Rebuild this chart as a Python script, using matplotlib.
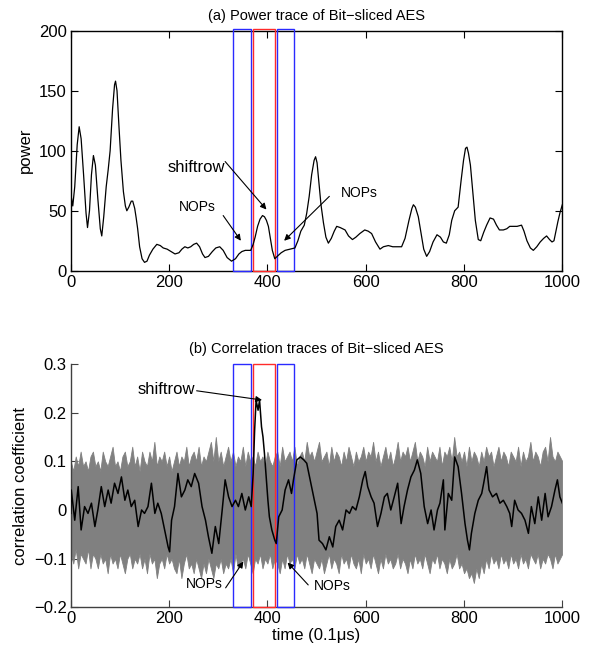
import numpy as np
import matplotlib
matplotlib.use("Agg")
import matplotlib.pyplot as plt
from matplotlib.patches import Rectangle
from matplotlib.ticker import FuncFormatter

plt.rcParams['font.family'] = ['Liberation Sans', 'DejaVu Sans']

# ---------------- data ----------------
power_x = [0, 4, 8, 13, 17, 21, 26, 31, 34, 38, 42, 46, 50, 55, 60, 63, 67, 72, 76, 80,
           85, 89, 91, 94, 98, 102, 107, 111, 114, 118, 123, 126, 130, 133, 136, 140, 145, 150, 155, 160,
           167, 175, 182, 188, 196, 204, 212, 220, 226, 232, 238, 244, 250, 256, 262, 268, 273, 280, 288, 295,
           303, 310, 318, 327, 335, 342, 348, 355, 362, 366, 371, 375, 380, 385, 390, 394, 398, 402, 406, 410,
           415, 420, 428, 436, 446, 456, 462, 468, 475, 480, 485, 490, 495, 498, 501, 505, 509, 514, 519, 524,
           530, 536, 541, 548, 553, 558, 565, 573, 580, 588, 598, 605, 612, 620, 629, 636, 646, 655, 665, 673,
           680, 688, 694, 697, 701, 707, 713, 718, 724, 730, 737, 745, 752, 758, 764, 770, 775, 781, 788, 794,
           799, 803, 806, 809, 813, 818, 823, 829, 834, 840, 846, 853, 860, 866, 872, 880, 887, 893, 900, 908,
           917, 922, 928, 935, 941, 948, 955, 962, 968, 974, 979, 983, 987, 991, 995, 1000]
power_y = [64, 54, 70, 105, 120, 110, 80, 48, 36, 50, 80, 96, 88, 60, 35, 29, 45, 70, 84, 100,
           135, 155, 158, 150, 120, 92, 66, 54, 50, 53, 58, 58, 52, 44, 35, 20, 10, 7, 8, 13,
           18, 22, 21, 19, 18, 16, 14, 15, 18, 20, 19, 20, 22, 23, 20, 14, 11, 12, 16, 19,
           20, 17, 11, 8, 10, 14, 16, 17, 17, 17, 22, 28, 37, 43, 46, 45, 42, 37, 27, 17,
           10, 12, 15, 17, 18, 19, 25, 33, 38, 48, 62, 80, 92, 95, 90, 72, 55, 40, 28, 23,
           27, 33, 37, 36, 35, 34, 29, 26, 28, 31, 34, 33, 31, 24, 18, 20, 21, 20, 20, 20,
           27, 42, 52, 55, 53, 45, 30, 18, 12, 16, 24, 30, 28, 24, 23, 30, 42, 50, 53, 75,
           92, 102, 103, 98, 88, 65, 42, 26, 25, 32, 38, 44, 43, 38, 34, 34, 35, 37, 37, 37,
           38, 33, 25, 19, 17, 20, 24, 27, 29, 26, 24, 25, 33, 41, 48, 55]

corr_x = [0, 1, 8, 15, 21, 28, 35, 42, 49, 55,
          62, 69, 76, 82, 89, 96, 103, 110, 116, 123,
          130, 137, 144, 150, 157, 164, 171, 177, 184, 191,
          198, 201, 205, 211, 218, 225, 232, 238, 245, 252,
          260, 267, 274, 280, 287, 294, 301, 308, 314, 321,
          328, 335, 341, 348, 355, 362, 367, 371, 374, 377,
          381, 384, 388, 391, 394, 398, 401, 404, 409, 415,
          418, 423, 430, 436, 443, 449, 453, 460, 467, 474,
          480, 487, 494, 501,
          505, 512, 519, 526, 533, 539, 546, 553, 560, 567,
          573, 580, 587, 594, 599, 604, 611, 617, 624, 631,
          638, 644, 651, 658, 665, 672, 678, 685, 692, 699,
          705, 712, 719, 726, 733, 739, 746,
          751, 758, 761, 768, 775, 781, 788, 795, 802, 807,
          811, 815, 822, 829, 836, 840, 846, 851, 858, 866,
          873, 880, 887, 893, 897, 903, 910, 917, 924, 931,
          937, 944, 951, 958, 965, 971, 978, 985, 990, 995,
          1000]
corr_y = [-0.007, 0.041, -0.021, 0.048, -0.041, 0.007, -0.007, 0.014, -0.034, 0.0,
          0.048, 0.007, 0.041, 0.014, 0.055, 0.034, 0.068, 0.020, 0.041, 0.007,
          0.020, -0.034, 0.0, -0.007, 0.007, 0.055, -0.007, 0.014, -0.007, -0.041,
          -0.076, -0.086, -0.021, 0.007, 0.075, 0.027, 0.041, 0.062, 0.048, 0.075,
          0.055, 0.007, -0.021, -0.055, -0.089, -0.034, -0.069, 0.0, 0.062, 0.027,
          0.007, 0.020, 0.007, 0.034, 0.0, 0.027, 0.007, 0.075, 0.164, 0.226,
          0.205, 0.226, 0.171, 0.150, 0.116, 0.062, 0.020, -0.014, -0.041, -0.062,
          -0.069, -0.014, 0.0, 0.041, 0.062, 0.034, 0.062, 0.103, 0.109, 0.103,
          0.096, 0.062, 0.027, -0.007,
          -0.062, -0.069, -0.082, -0.055, -0.076, -0.034, -0.021, -0.041, 0.0, -0.007,
          0.007, 0.0, 0.027, 0.062, 0.079, 0.048, 0.027, 0.014, -0.034, -0.007,
          0.027, 0.034, 0.0, 0.027, 0.055, -0.028, 0.007, 0.041, 0.068, 0.082,
          0.103, 0.075, 0.007, -0.028, 0.0, -0.041, 0.0,
          0.014, 0.062, -0.041, 0.034, 0.020, 0.109, 0.089, 0.034, -0.028, -0.062,
          -0.082, -0.048, -0.007, 0.020, 0.034, 0.055, 0.089, 0.041, 0.027, 0.034,
          0.014, 0.020, 0.007, -0.007, -0.034, 0.020, 0.0, -0.007, -0.021, -0.048,
          0.007, -0.028, 0.027, -0.021, 0.034, -0.014, 0.007, 0.041, 0.062, 0.027,
          0.014]

band_x = list(range(0, 1001, 5))
band_upper = [0.10, 0.08, 0.11, 0.09, 0.12, 0.09, 0.10, 0.08, 0.11, 0.12, 0.09, 0.10, 0.08, 0.12, 0.10, 0.09, 0.11, 0.13, 0.09, 0.10,
              0.08, 0.11, 0.12, 0.09, 0.10, 0.13, 0.09, 0.11, 0.08, 0.12, 0.10, 0.09, 0.12, 0.10, 0.14, 0.09, 0.11, 0.10, 0.12, 0.09,
              0.11, 0.08, 0.10, 0.12, 0.09, 0.11, 0.10, 0.13, 0.09, 0.11, 0.12, 0.10, 0.13, 0.09, 0.11, 0.10, 0.12, 0.14, 0.10, 0.15,
              0.10, 0.12, 0.09, 0.11, 0.13, 0.10, 0.12, 0.09, 0.11, 0.10, 0.13, 0.09, 0.12, 0.10, 0.11, 0.09, 0.12, 0.10, 0.11, 0.09,
              0.12, 0.10, 0.09, 0.11, 0.12, 0.09, 0.13, 0.10, 0.11, 0.12, 0.10, 0.13, 0.09, 0.11, 0.12, 0.10, 0.14, 0.11, 0.12, 0.10,
              0.12, 0.14, 0.10, 0.11, 0.12, 0.09, 0.13, 0.10, 0.12, 0.11, 0.09, 0.12, 0.10, 0.13, 0.11, 0.09, 0.12, 0.10, 0.11, 0.13,
              0.10, 0.12, 0.11, 0.14, 0.10, 0.12, 0.09, 0.11, 0.13, 0.10, 0.12, 0.09, 0.11, 0.14, 0.10, 0.12, 0.11, 0.13, 0.10, 0.12,
              0.14, 0.10, 0.12, 0.11, 0.09, 0.13, 0.10, 0.12, 0.11, 0.10, 0.13, 0.09, 0.12, 0.11, 0.13, 0.10, 0.15, 0.11, 0.12, 0.10,
              0.12, 0.09, 0.13, 0.10, 0.12, 0.11, 0.09, 0.12, 0.10, 0.13, 0.11, 0.12, 0.09, 0.11, 0.13, 0.10, 0.12, 0.11, 0.09, 0.12,
              0.11, 0.10, 0.13, 0.09, 0.12, 0.10, 0.11, 0.14, 0.10, 0.12, 0.11, 0.09, 0.12, 0.13, 0.10, 0.15, 0.11, 0.10, 0.12, 0.11,
              0.10]
band_lower = [-0.09, -0.11, -0.08, -0.12, -0.09, -0.10, -0.11, -0.08, -0.12, -0.09, -0.10, -0.12, -0.09, -0.11, -0.10, -0.13, -0.09, -0.11, -0.10, -0.12,
              -0.09, -0.11, -0.13, -0.10, -0.09, -0.12, -0.10, -0.11, -0.09, -0.12, -0.10, -0.13, -0.09, -0.11, -0.10, -0.14, -0.11, -0.10, -0.12, -0.09,
              -0.11, -0.10, -0.12, -0.13, -0.10, -0.14, -0.11, -0.09, -0.12, -0.11, -0.13, -0.10, -0.12, -0.14, -0.11, -0.13, -0.10, -0.12, -0.14, -0.11,
              -0.12, -0.10, -0.13, -0.11, -0.12, -0.10, -0.13, -0.09, -0.12, -0.11, -0.10, -0.12, -0.09, -0.11, -0.13, -0.10, -0.11, -0.09, -0.12, -0.10,
              -0.11, -0.09, -0.12, -0.10, -0.11, -0.13, -0.10, -0.12, -0.09, -0.11, -0.10, -0.12, -0.09, -0.11, -0.10, -0.12, -0.09, -0.11, -0.13, -0.10,
              -0.11, -0.12, -0.10, -0.13, -0.11, -0.09, -0.12, -0.10, -0.11, -0.13, -0.09, -0.11, -0.10, -0.12, -0.09, -0.11, -0.12, -0.10, -0.13, -0.09,
              -0.11, -0.10, -0.12, -0.09, -0.11, -0.13, -0.10, -0.12, -0.09, -0.11, -0.10, -0.12, -0.11, -0.09, -0.12, -0.10, -0.11, -0.13, -0.10, -0.12,
              -0.09, -0.11, -0.10, -0.12, -0.09, -0.11, -0.13, -0.10, -0.11, -0.09, -0.12, -0.10, -0.11, -0.13, -0.10, -0.12, -0.11, -0.09, -0.12, -0.11,
              -0.13, -0.12, -0.14, -0.13, -0.15, -0.12, -0.14, -0.11, -0.13, -0.10, -0.12, -0.09, -0.11, -0.10, -0.12, -0.09, -0.11, -0.10, -0.12, -0.09,
              -0.11, -0.10, -0.12, -0.09, -0.11, -0.10, -0.12, -0.09, -0.10, -0.11, -0.09, -0.12, -0.10, -0.11, -0.09, -0.10, -0.12, -0.09, -0.11, -0.10,
              -0.09]

nop_windows = [(331, 367), (419, 455)]
shiftrow_window = (371, 415)

power_ylim = (0, 200)
corr_ylim = (-0.2, 0.3)

# ---------------- figure ----------------
fig = plt.figure(figsize=(5.96, 6.54), dpi=100)
ax1 = fig.add_axes([0.1188, 0.586, 0.8247, 0.367])
ax2 = fig.add_axes([0.1188, 0.0714, 0.8247, 0.372])

TICK_FS = 12
LABEL_FS = 12


def draw_windows(ax, ylim, top_extra):
    for (a, b) in nop_windows:
        ax.add_patch(Rectangle((a, ylim[0]), b - a, ylim[1] - ylim[0] + top_extra,
                               fill=False, edgecolor='#2a2aff', lw=1.0, clip_on=False, zorder=3))
    a, b = shiftrow_window
    ax.add_patch(Rectangle((a, ylim[0]), b - a, ylim[1] - ylim[0] + top_extra,
                           fill=False, edgecolor='#ff2a2a', lw=1.0, clip_on=False, zorder=3))


arrow_kw = dict(arrowstyle='-|>', color='black', lw=0.8, mutation_scale=9,
                shrinkA=0, shrinkB=0)

# ---- top panel ----
ax1.plot(power_x, power_y, color='black', lw=0.9, zorder=4)
ax1.set_xlim(0, 1000)
ax1.set_ylim(*power_ylim)
ax1.set_xticks(range(0, 1001, 200))
ax1.set_yticks(range(0, 201, 50))
ax1.tick_params(direction='in', length=5, width=0.8, top=True, right=True,
                labelsize=TICK_FS, pad=3)
for s in ax1.spines.values():
    s.set_linewidth(1.0)
ax1.set_ylabel('power', fontsize=LABEL_FS)
ax1.set_title('(a) Power trace of Bit\u2212sliced AES', fontsize=10.5, pad=8)
draw_windows(ax1, power_ylim, 1.5)

ax1.text(256, 86, 'shiftrow', fontsize=12, ha='center', va='center')
ax1.annotate('', xy=(398, 51), xytext=(314, 91), arrowprops=arrow_kw)
ax1.text(258, 53, 'NOPs', fontsize=10, ha='center', va='center')
ax1.annotate('', xy=(346, 25), xytext=(310, 46), arrowprops=arrow_kw)
ax1.text(587, 64.5, 'NOPs', fontsize=10, ha='center', va='center')
ax1.annotate('', xy=(434, 25), xytext=(526, 62), arrowprops=arrow_kw)

# ---- bottom panel ----
ax2.fill_between(band_x, band_lower, band_upper, color='#808080', lw=0.6,
                 edgecolor='#808080', zorder=2)
draw_windows(ax2, corr_ylim, 0.0)
ax2.plot(corr_x, corr_y, color='black', lw=1.1, zorder=4)
ax2.set_xlim(0, 1000)
ax2.set_ylim(*corr_ylim)
ax2.set_xticks(range(0, 1001, 200))
ax2.set_yticks([-0.2, -0.1, 0, 0.1, 0.2, 0.3])
ax2.yaxis.set_major_formatter(FuncFormatter(lambda v, p: f"{v:g}".replace('-', '\u2212')))
ax2.tick_params(direction='in', length=5, width=0.8, labelsize=TICK_FS, pad=3,
                color='#404040')
ax2.spines['top'].set_visible(False)
ax2.spines['right'].set_visible(False)
for s in ('left', 'bottom'):
    ax2.spines[s].set_color('#404040')
    ax2.spines[s].set_linewidth(1.0)
ax2.set_ylabel('correlation coefficient', fontsize=LABEL_FS)
ax2.set_xlabel('time (0.1\u03bcs)', fontsize=LABEL_FS, labelpad=1)
ax2.set_title('(b) Correlation traces of Bit\u2212sliced AES', fontsize=10.5, pad=8)

ax2.text(195, 0.247, 'shiftrow', fontsize=12, ha='center', va='center')
ax2.annotate('', xy=(389, 0.226), xytext=(256, 0.245), arrowprops=arrow_kw)
ax2.text(271, -0.152, 'NOPs', fontsize=10, ha='center', va='center')
ax2.annotate('', xy=(351, -0.106), xytext=(315, -0.160), arrowprops=arrow_kw)
ax2.text(533, -0.157, 'NOPs', fontsize=10, ha='center', va='center')
ax2.annotate('', xy=(441, -0.108), xytext=(483, -0.154), arrowprops=arrow_kw)

fig.savefig('out.png', dpi=100)
